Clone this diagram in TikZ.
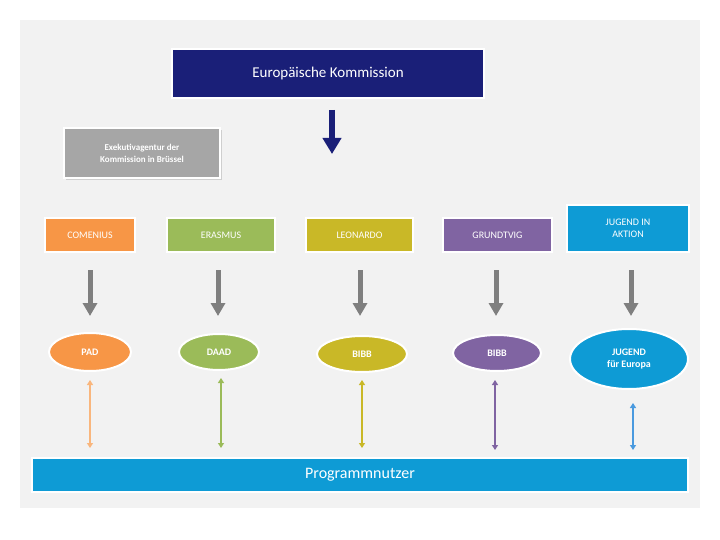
\documentclass[tikz,border=0pt]{standalone}
\usepackage{fontspec}
\setmainfont{Carlito}
\usetikzlibrary{shapes.geometric,arrows.meta,shadows}
\definecolor{bg}{HTML}{F2F2F2}
\definecolor{navy}{HTML}{1A1F78}
\definecolor{cor}{HTML}{F79646}
\definecolor{cgr}{HTML}{9BBB59}
\definecolor{cye}{HTML}{C9B827}
\definecolor{cpu}{HTML}{8064A2}
\definecolor{cbl}{HTML}{0E9BD5}
\definecolor{cbl2}{HTML}{4A9ADF}
\definecolor{cgy}{HTML}{7F7F7F}
\begin{document}
\begin{tikzpicture}[x=1pt,y=-1pt,
  box/.style={draw=white,line width=2pt,text=white,font=\fontsize{10}{12}\selectfont,align=center,inner sep=0pt},
  oval/.style={ellipse,draw=white,line width=2pt,text=white,font=\bfseries\fontsize{10}{12}\selectfont,align=center,inner sep=0pt},
  garrow/.style={-{Triangle[width=14pt,length=13pt]},line width=5pt,cgy,shorten >=0pt},
  darrow/.style={{Triangle[width=6pt,length=5pt]}-{Triangle[width=6pt,length=5pt]},line width=2.5pt}]
\useasboundingbox (0,0) rectangle (720,540);
\fill[bg] (20,20) rectangle (700,508);
\node[box,fill=navy,minimum width=312pt,minimum height=49pt,font=\fontsize{15}{18}\selectfont] (ek) at (328,73.5) {Europäische Kommission};
\coordinate (na1) at (332,110); \coordinate (na2) at (332,154);
\draw[-{Triangle[width=18pt,length=16pt]},line width=6pt,navy] (na1) -- (na2);
\node[box,fill=gray!70,minimum width=156pt,minimum height=50pt,font=\bfseries\fontsize{9}{12}\selectfont,drop shadow={opacity=0.3}] (ex) at (142,153) {Exekutivagentur der\\Kommission in Brüssel};
\node[box,fill=cor,minimum width=90pt,minimum height=34pt] (p1) at (90,235) {COMENIUS};
\node[box,fill=cgr,minimum width=108pt,minimum height=34pt] (p2) at (221,235) {ERASMUS};
\node[box,fill=cye,minimum width=107pt,minimum height=34pt] (p3) at (359.5,235) {LEONARDO};
\node[box,fill=cpu,minimum width=109pt,minimum height=34pt] (p4) at (497.5,235) {GRUNDTVIG};
\node[box,fill=cbl,minimum width=122pt,minimum height=47pt] (p5) at (628,228.5) {JUGEND IN\\AKTION};
\node[oval,fill=cor,minimum width=82pt,minimum height=38pt] (o1) at (90,352) {PAD};
\node[oval,fill=cgr,minimum width=80pt,minimum height=36pt] (o2) at (219,352) {DAAD};
\node[oval,fill=cye,minimum width=90pt,minimum height=36pt] (o3) at (362,354) {BIBB};
\node[oval,fill=cpu,minimum width=88pt,minimum height=36pt] (o4) at (497,353) {BIBB};
\node[oval,fill=cbl,minimum width=118pt,minimum height=60pt] (o5) at (629,359) {JUGEND\\für Europa};
\node[box,fill=cbl,minimum width=656pt,minimum height=34pt,font=\fontsize{16}{18}\selectfont] (pn) at (360,475) {Programmnutzer};
\foreach \i/\x in {1/90,2/218,3/360,4/496,5/631}{
  \draw[garrow] (\x,270) -- (\x,316);
}
\draw[darrow,cor!70] (90,380) -- (90,448);
\draw[darrow,cgr] (221,378) -- (221,448);
\draw[darrow,cye] (362,380) -- (362,448);
\draw[darrow,cpu] (495,380) -- (495,450);
\draw[darrow,cbl2] (633,403) -- (633,450);
\end{tikzpicture}
\end{document}
